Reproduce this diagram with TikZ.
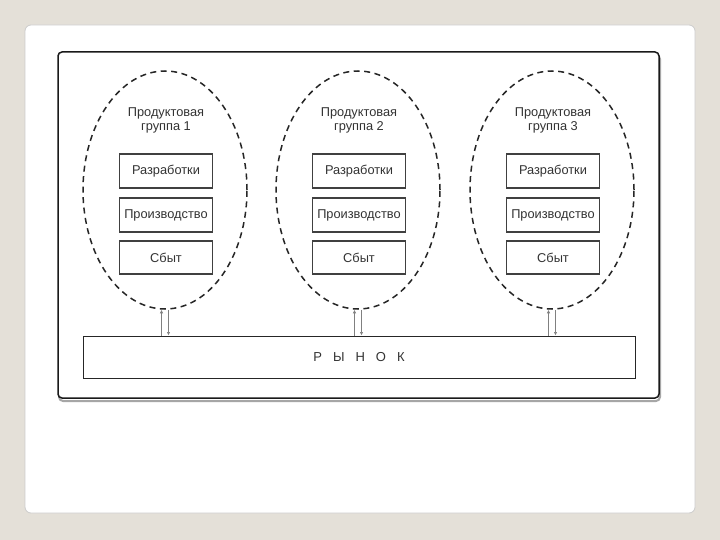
\documentclass[tikz,border=0pt]{standalone}
\usepackage{fontspec}
\setmainfont{Liberation Sans}
\usetikzlibrary{shapes.geometric,arrows.meta}
\definecolor{bgc}{HTML}{E4E0D8}
\definecolor{txt}{HTML}{333333}
\tikzset{
  px/.style={x=1pt,y=-1pt},
  grp/.style={ellipse,draw=black!85,dashed,dash pattern=on 6pt off 4.5pt,line width=1.5pt,minimum width=164pt,minimum height=238pt,inner sep=0pt},
  unit/.style={rectangle,draw=black!75,line width=1.1pt,minimum width=93pt,minimum height=34pt,inner sep=0pt,font=\fontsize{12.8}{14}\selectfont,text=txt,fill=white},
  gtitle/.style={align=center,font=\fontsize{12.8}{14}\selectfont,text=txt,inner sep=0pt},
  mkt/.style={rectangle,draw=black!85,line width=1pt,minimum width=552pt,minimum height=42pt,inner sep=0pt,font=\fontsize{13}{14}\selectfont,text=txt},
  link/.style={draw=black!50,line width=1.7pt,-{Latex[length=3.5pt,width=3.5pt]}}
}
\begin{document}
\begin{tikzpicture}[px]
\useasboundingbox (0,0) rectangle (720,540);
\fill[bgc] (0,0) rectangle (720,540);
\filldraw[fill=white,draw=black!20,line width=0.8pt,rounded corners=6pt] (25,25) rectangle (695,513);
% frame with shadow
\draw[black!35,line width=2pt,rounded corners=4pt] (59,55) rectangle (660,401);
\draw[black!90,line width=1.5pt,rounded corners=4pt,fill=white] (58,52) rectangle (659,398);
% groups
\foreach \i/\x in {1/165,2/358,3/552}{
  \node[grp] (e\i) at (\x,190) {};
  \node[gtitle] (t\i) at (\x+1,120) {Продуктовая\\группа \i};
  \node[unit] (r\i) at (\x+1,171) {Разработки};
  \node[unit] (p\i) at (\x+1,215) {Производство};
  \node[unit,minimum height=33pt] (s\i) at (\x+1,257.5) {Сбыт};
}
\node[mkt] (m) at (359,357) {Р\hspace{11pt}Ы\hspace{11pt}Н\hspace{11pt}О\hspace{11pt}К};
\foreach \i in {1,2,3}{
  \draw[link] ([xshift=-3.5pt]e\i.south |- m.north) -- ([xshift=-3.5pt]e\i.south);
  \draw[link] ([xshift=3.5pt]e\i.south) -- ([xshift=3.5pt]e\i.south |- m.north);
}
\end{tikzpicture}
\end{document}
